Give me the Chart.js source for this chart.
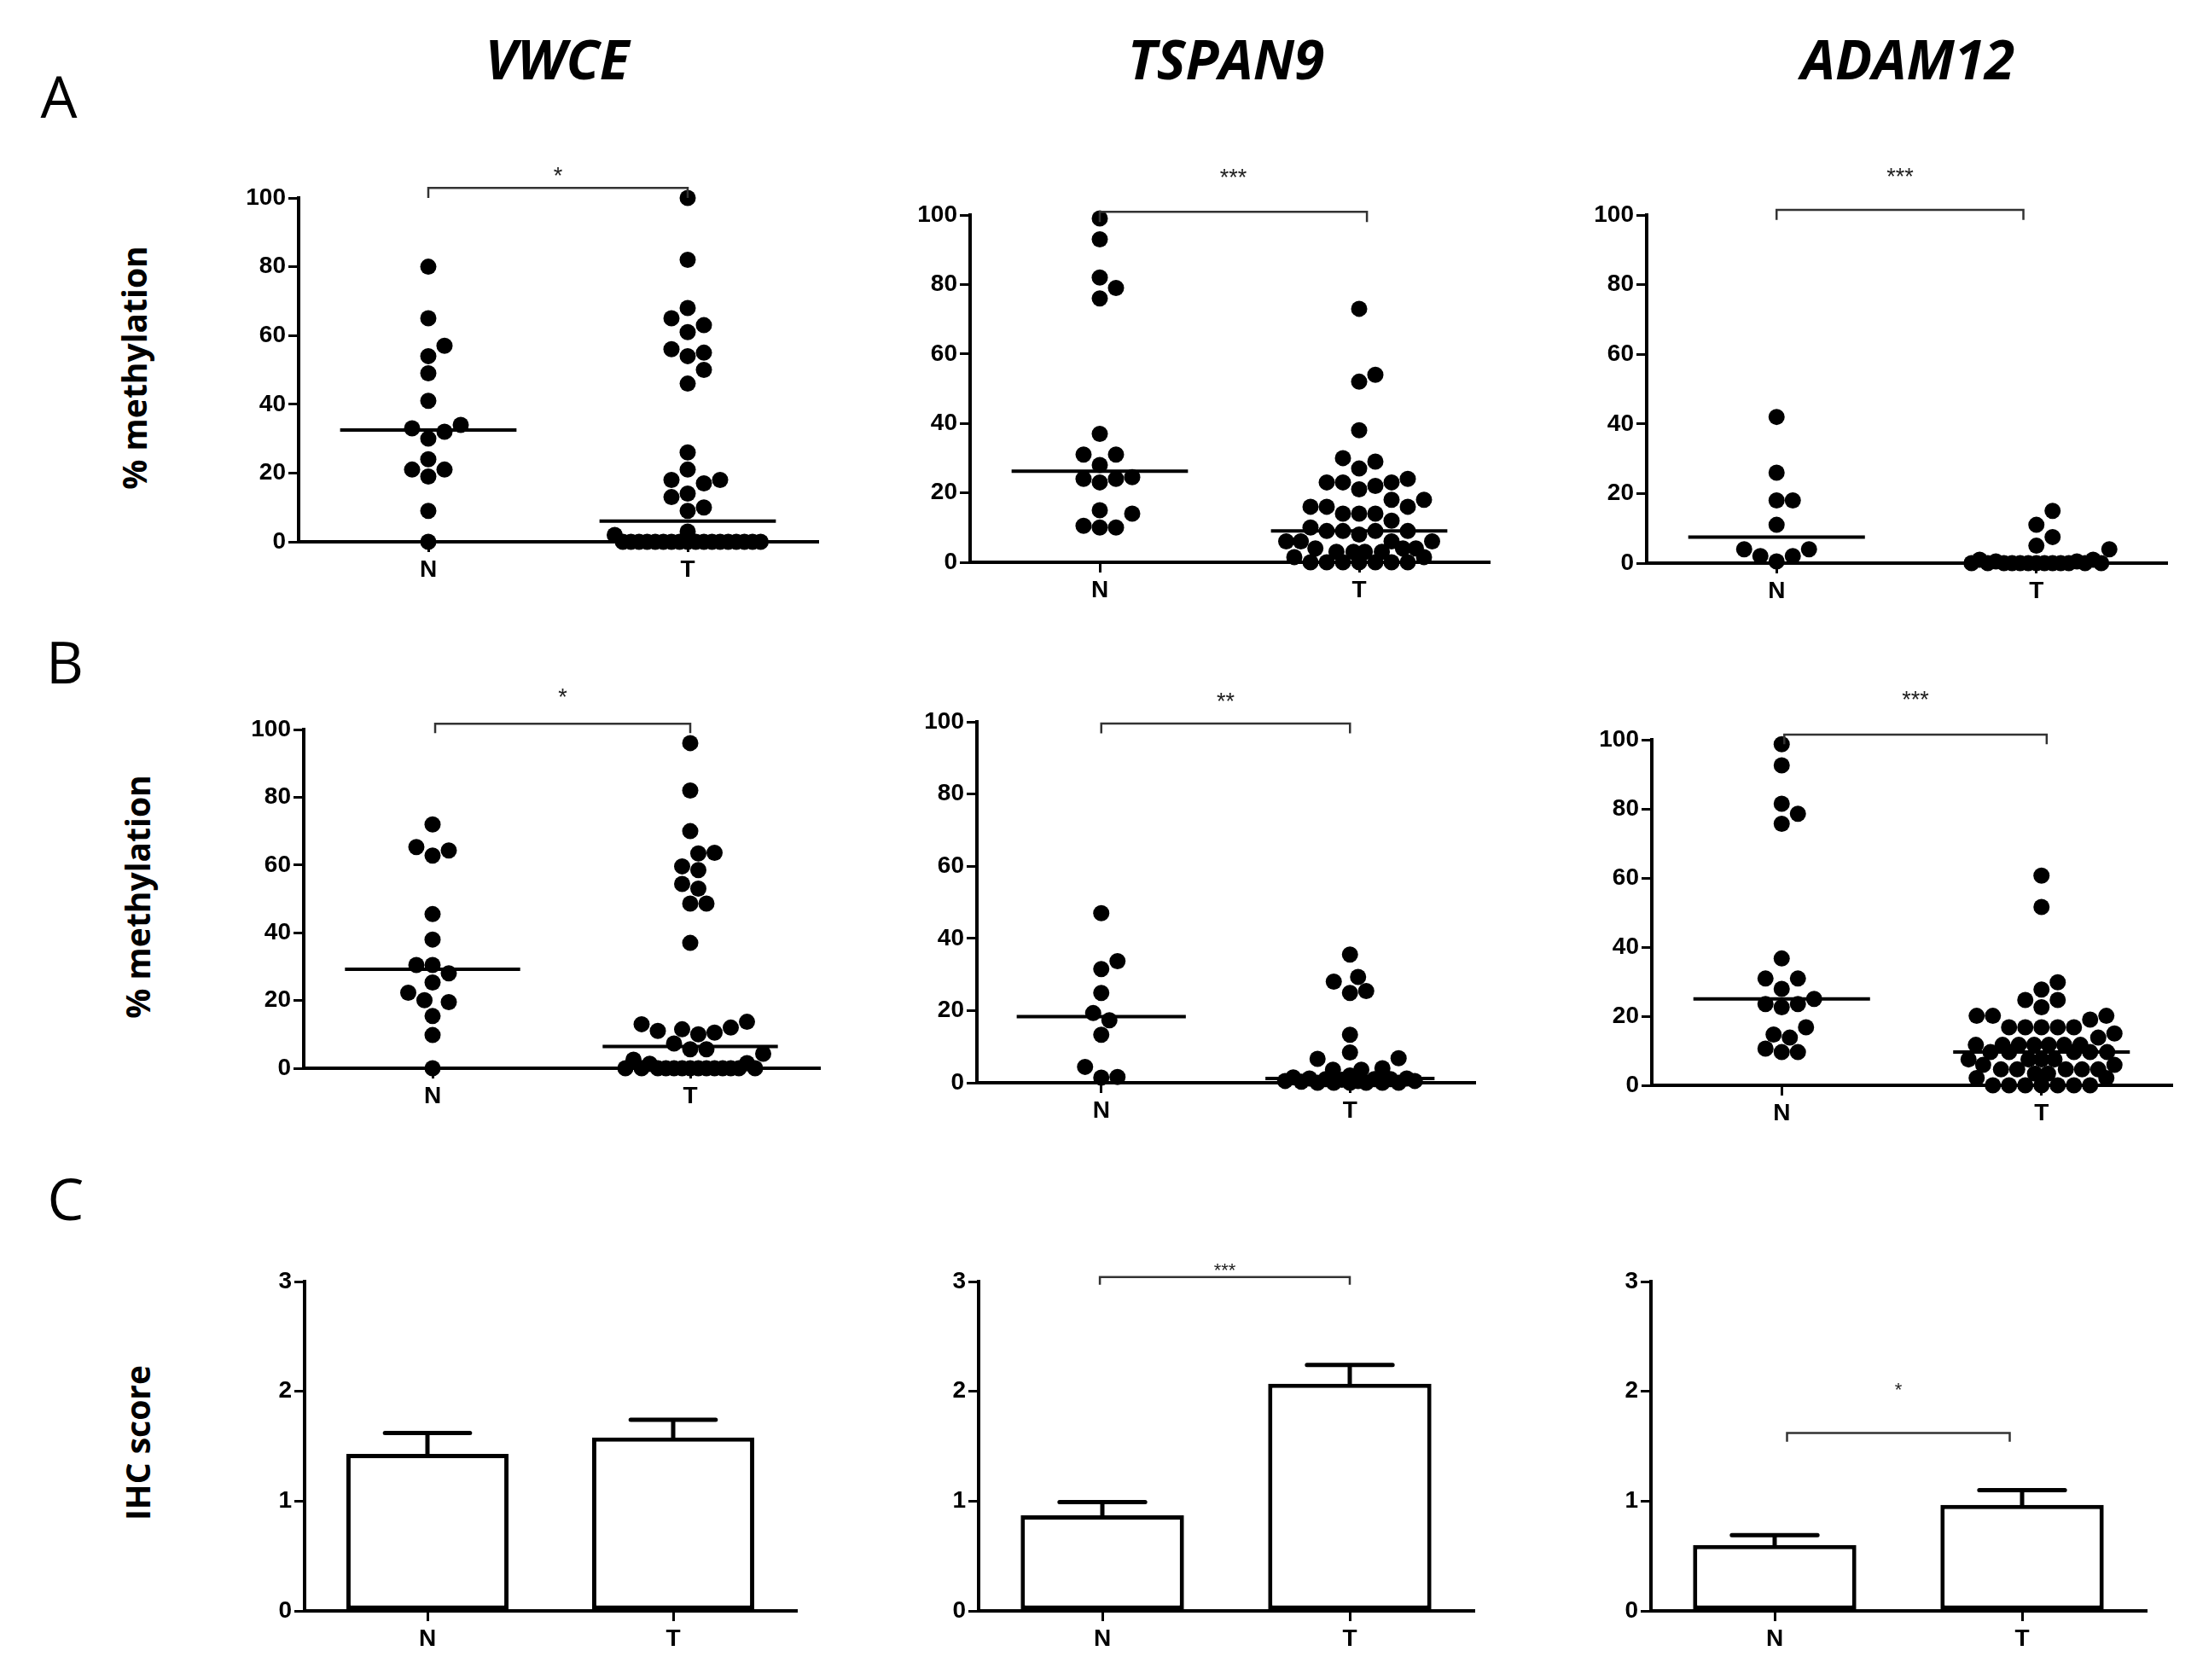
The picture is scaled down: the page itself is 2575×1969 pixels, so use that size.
<!DOCTYPE html>
<html>
<head>
<meta charset="utf-8">
<script src="https://cdn.jsdelivr.net/npm/chart.js@4.4.1/dist/chart.umd.min.js"></script>
<style>
  body { margin: 0; background: #fff; }
  #page { position: relative; width: 2575px; height: 1969px; background: #fff; overflow: hidden; }
  #page canvas { position: absolute; }
  .lbl { position: absolute; transform: translate(-50%, -50%); white-space: nowrap; color: #000; line-height: 1; }
  .gene { font-family: 'Open Sans', sans-serif; font-weight: 700; font-style: italic; font-size: 64px; }
  .letter { font-family: 'Open Sans', sans-serif; font-weight: 400; font-size: 68px; }
  .ytitle { font-family: 'Open Sans', sans-serif; font-weight: 700; font-size: 39px; transform: translate(-50%, -50%) rotate(-90deg); }
</style>
</head>
<body>
<div id="page">
  <div class="lbl gene" style="left:653px; top:69px;">VWCE</div>
  <div class="lbl gene" style="left:1437px; top:69px;">TSPAN9</div>
  <div class="lbl gene" style="left:2236px; top:69px;">ADAM12</div>
  <div class="lbl letter" style="left:69px; top:112px;">A</div>
  <div class="lbl letter" style="left:76px; top:775px;">B</div>
  <div class="lbl letter" style="left:77px; top:1404px;">C</div>
  <div class="lbl ytitle" style="left:156px; top:431px;">% methylation</div>
  <div class="lbl ytitle" style="left:160px; top:1051px;">% methylation</div>
  <div class="lbl ytitle" style="left:160px; top:1691px;">IHC score</div>
</div>
<script>
const groups = ['N', 'T'];

// row A, % methylation
const vwceA_N = [80, 65, 57, 54, 49, 41, 34, 33, 32, 30, 24, 21, 21, 19, 9, 0];
const vwceA_T = [100, 82, 68, 65, 63, 61, 56, 55, 54, 50, 46, 26, 21, 18, 18, 17, 14, 13, 10, 9, 3, 2,
    0, 0, 0, 0, 0, 0, 0, 0, 0, 0, 0, 0, 0, 0, 0, 0, 0, 0];
const tspanA_N = [99, 93, 82, 79, 76, 37, 31, 31, 28, 24.5, 24, 24, 23, 15, 14, 10.5, 10, 10];
const tspanA_T = [73, 54, 52, 38, 30, 29, 27, 24, 23, 23, 23, 22, 21, 18, 18, 16, 16, 16, 14, 14, 14, 12, 10,
    9, 9, 9, 9, 8, 6, 6, 6, 6, 4, 4, 4, 3, 3, 3, 3, 1.5, 1.5, 0, 0, 0, 0, 0, 0, 0];
const adamA_N = [42, 26, 18, 18, 11, 4, 4, 2, 2, 0.5];
const adamA_T = [15, 11, 7.5, 5, 4, 1, 1, 0.5, 0.5, 0, 0, 0, 0, 0, 0, 0, 0, 0, 0, 0, 0, 0];

// row B, % methylation
const vwceB_N = [72, 65.3, 64.3, 62.8, 45.5, 38, 30.5, 30.5, 28, 25.3, 22.3, 20.1, 19.5, 15.4, 9.8, 0];
const vwceB_T = [96, 82, 70, 63.6, 63.4, 59.6, 58.5, 54.4, 53, 48.6, 48.6, 37, 13.7, 13, 12, 11.5, 11, 10.5, 10,
    7.3, 5.6, 5.6, 4.3, 2.5, 1.5, 1.3, 0, 0, 0, 0, 0, 0, 0, 0, 0, 0, 0, 0, 0, 0];
const tspanB_N = [47, 33.7, 31.5, 24.9, 19.3, 17.3, 13.3, 4.4, 1.6, 1.4];
const tspanB_T = [35.5, 29.3, 28, 25.4, 24.9, 13.3, 8.4, 6.8, 6.6, 4, 3.6, 3.6, 2, 1.5, 1.2, 1.2, 1, 1, 1, 0.8,
    0.5, 0.5, 0.5, 0.3, 0, 0, 0, 0, 0, 0];
const adamB_N = [98.7, 92.6, 81.5, 78.6, 75.7, 36.7, 30.9, 30.9, 27.9, 25, 23.5, 23.5, 22.6, 16.8, 14.7, 13.8,
    10.6, 9.6, 9.6];
const adamB_T = [60.7, 51.6, 29.8, 27.7, 24.7, 24.7, 22.6, 20.1, 20.1, 20.1, 19, 16.8, 16.8, 16.8, 16.8, 16.8,
    15, 13.8, 11.7, 11.7, 11.7, 11.7, 11.7, 11.7, 11.7, 9.6, 9.6, 9.6, 9.6, 9.6, 7.5, 7.5, 7.5, 7.5,
    5.9, 5.9, 4.6, 4.6, 4.6, 4.6, 4.6, 3.4, 3.4, 2.1, 2.1, 0, 0, 0, 0, 0, 0, 0];

// row C, IHC score (mean and SEM per gene: VWCE, TSPAN9, ADAM12)
const ihcMeanN = [1.43, 0.87, 0.60];
const ihcMeanT = [1.58, 2.07, 0.965];
const ihcSemN = [0.19, 0.12, 0.09];
const ihcSemT = [0.16, 0.17, 0.135];

const DOT_R = 9.5;
const Y_AXIS_W = 110;
const X_AXIS_H = 70;
const PAD_TOP = 130;
const PAD_RIGHT = 20;
const TICK_FONT = { family: "'Liberation Sans', Arial, sans-serif", size: 28, weight: 'bold' };

const dotPanels = [
    { n: vwceA_N, t: vwceA_T, area: [350, 232, 958, 635], sig: { y: 102.9, drop: 2.9, x0: 1, x1: 2, text: '*', ty: 107.5 } },
    { n: tspanA_N, t: tspanA_T, area: [1137, 252, 1745, 659], sig: { y: 100.9, drop: 2.9, x0: 1, x1: 2.03, text: '***', ty: 112 } },
    { n: adamA_N, t: adamA_T, area: [1930, 252, 2539, 660], sig: { y: 101.5, drop: 2.9, x0: 1, x1: 1.95, text: '***', ty: 112 } },
    { n: vwceB_N, t: vwceB_T, area: [356, 855, 960, 1252], sig: { y: 101.7, drop: 2.8, x0: 1.01, x1: 2, text: '*', ty: 110.8 } },
    { n: tspanB_N, t: tspanB_T, area: [1145, 846, 1728, 1269], sig: { y: 99.5, drop: 2.7, x0: 1, x1: 2, text: '**', ty: 106.7 } },
    { n: adamB_N, t: adamB_T, area: [1936, 867, 2545, 1272], sig: { y: 101.5, drop: 2.8, x0: 1.01, x1: 2.02, text: '***', ty: 112.8 } },
];

const barPanels = [
    { gene: 0, area: [357, 1502, 933, 1888], sig: null },
    { gene: 1, area: [1147, 1502, 1727, 1888], sig: { y: 3.04, drop: 0.07, x0: 0.99, x1: 2, text: '***', ty: 3.14, size: 22 } },
    { gene: 2, area: [1935, 1502, 2515, 1888], sig: { y: 1.62, drop: 0.08, x0: 1.05, x1: 1.95, text: '*', ty: 2.05, size: 22 } },
];

function median(values) {
    const s = values.slice().sort((a, b) => a - b);
    const m = Math.floor(s.length / 2);
    return s.length % 2 ? s[m] : (s[m - 1] + s[m]) / 2;
}

// spread dots sideways so they do not overlap (scatter dot plot layout)
function swarm(values, pxX, pxY, maxHalf) {
    const placed = [];
    const out = new Array(values.length);
    const order = values.map((v, i) => i).sort((a, b) => values[a] - values[b]);
    for (const i of order) {
        const v = values[i];
        let x = null;
        for (let f = 1; f > 0.2 && x === null; f -= 0.1) {
            const sep = DOT_R * 2 * f;
            for (let k = 0; k <= 80 && x === null; k++) {
                for (const sgn of (k === 0 ? [1] : [1, -1])) {
                    const cx = sgn * k * sep * 0.5 / pxX;
                    if (Math.abs(cx) > maxHalf) continue;
                    const ok = placed.every(p => {
                        const dx = (p.x - cx) * pxX, dy = (p.v - v) * pxY;
                        return dx * dx + dy * dy >= sep * sep - 0.01;
                    });
                    if (ok) { x = cx; break; }
                }
            }
        }
        if (x === null) x = 0;
        placed.push({ v: v, x: x });
        out[i] = x;
    }
    return out;
}

function makeCanvas(area) {
    const c = document.createElement('canvas');
    const w = area[2] - area[0] + Y_AXIS_W + PAD_RIGHT;
    const h = area[3] - area[1] + PAD_TOP + X_AXIS_H;
    c.width = w;
    c.height = h;
    c.style.left = (area[0] - Y_AXIS_W) + 'px';
    c.style.top = (area[1] - PAD_TOP) + 'px';
    c.style.width = w + 'px';
    c.style.height = h + 'px';
    document.getElementById('page').appendChild(c);
    return c;
}

function sigPlugin(spec) {
    return {
        id: 'sig',
        afterDraw(chart) {
            if (!spec) return;
            const ctx = chart.ctx, a = chart.chartArea, y = chart.scales.y;
            const xp = u => a.left + (u - 0.5) / 2 * (a.right - a.left);
            const yl = y.getPixelForValue(spec.y), yd = y.getPixelForValue(spec.y - spec.drop);
            ctx.save();
            ctx.strokeStyle = '#333';
            ctx.lineWidth = 2.5;
            ctx.beginPath();
            ctx.moveTo(xp(spec.x0), yd);
            ctx.lineTo(xp(spec.x0), yl);
            ctx.lineTo(xp(spec.x1), yl);
            ctx.lineTo(xp(spec.x1), yd);
            ctx.stroke();
            ctx.fillStyle = '#222';
            ctx.font = (spec.size || 27) + "px 'Liberation Sans', Arial, sans-serif";
            ctx.textAlign = 'center';
            ctx.textBaseline = 'middle';
            ctx.fillText(spec.text, (xp(spec.x0) + xp(spec.x1)) / 2, y.getPixelForValue(spec.ty) + 6);
            ctx.restore();
        }
    };
}

function errPlugin(means, sems) {
    return {
        id: 'errbars',
        afterDatasetsDraw(chart) {
            const ctx = chart.ctx, a = chart.chartArea, y = chart.scales.y;
            const xp = u => a.left + (u - 0.5) / 2 * (a.right - a.left);
            const half = 0.173 / 2 * (a.right - a.left);
            ctx.save();
            ctx.strokeStyle = '#000';
            ctx.lineWidth = 5;
            ctx.lineCap = 'round';
            for (let i = 0; i < means.length; i++) {
                const cx = xp(i + 1);
                const top = y.getPixelForValue(means[i]);
                const cap = y.getPixelForValue(means[i] + sems[i]);
                ctx.beginPath();
                ctx.moveTo(cx, top);
                ctx.lineTo(cx, cap);
                ctx.moveTo(cx - half, cap);
                ctx.lineTo(cx + half, cap);
                ctx.stroke();
            }
            ctx.restore();
        }
    };
}

function axisOptions(extra) {
    return Object.assign({
        grid: { drawOnChartArea: false, drawTicks: true, tickLength: 12, color: '#000', lineWidth: 3 },
        border: { display: true, color: '#000', width: 4 },
        ticks: { color: '#000', font: TICK_FONT, padding: 3 },
    }, extra);
}

function createDotPlot(p) {
    const canvas = makeCanvas(p.area);
    const pxX = (p.area[2] - p.area[0]) / 2;
    const pxY = (p.area[3] - p.area[1]) / 100;
    const offN = swarm(p.n, pxX, pxY, 0.29);
    const offT = swarm(p.t, pxX, pxY, 0.29);
    const medN = median(p.n), medT = median(p.t);
    const dotStyle = { pointRadius: DOT_R, pointBackgroundColor: '#000', pointBorderWidth: 0, showLine: false, clip: false };

    const config = {
        type: 'scatter',
        data: {
            datasets: [
                Object.assign({ label: 'N', data: p.n.map((v, i) => ({ x: 1 + offN[i], y: v })) }, dotStyle),
                Object.assign({ label: 'T', data: p.t.map((v, i) => ({ x: 2 + offT[i], y: v })) }, dotStyle),
                { label: 'median N', data: [{ x: 0.66, y: medN }, { x: 1.34, y: medN }], showLine: true,
                  borderColor: '#000', borderWidth: 4, pointRadius: 0, clip: false },
                { label: 'median T', data: [{ x: 1.66, y: medT }, { x: 2.34, y: medT }], showLine: true,
                  borderColor: '#000', borderWidth: 4, pointRadius: 0, clip: false },
            ]
        },
        options: {
            responsive: false,
            animation: false,
            devicePixelRatio: 1,
            layout: { padding: { top: PAD_TOP, right: PAD_RIGHT, left: 0, bottom: 0 } },
            plugins: { legend: { display: false }, tooltip: { enabled: false } },
            scales: {
                x: axisOptions({
                    type: 'linear', min: 0.5, max: 2.5,
                    afterBuildTicks: s => { s.ticks = [{ value: 1 }, { value: 2 }]; },
                    afterFit: s => { s.height = X_AXIS_H; },
                    ticks: { color: '#000', font: TICK_FONT, padding: 4, callback: v => groups[v - 1] },
                }),
                y: axisOptions({
                    type: 'linear', min: 0, max: 100,
                    afterFit: s => { s.width = Y_AXIS_W; },
                    ticks: { color: '#000', font: TICK_FONT, padding: 3, stepSize: 20 },
                }),
            }
        },
        plugins: [sigPlugin(p.sig)]
    };
    return new Chart(canvas, config);
}

function createBarPlot(p) {
    const canvas = makeCanvas(p.area);
    const means = [ihcMeanN[p.gene], ihcMeanT[p.gene]];
    const sems = [ihcSemN[p.gene], ihcSemT[p.gene]];
    const config = {
        type: 'bar',
        data: {
            labels: groups,
            datasets: [{
                data: means,
                backgroundColor: '#fff',
                borderColor: '#000',
                borderWidth: 5,
                borderSkipped: false,
                barPercentage: 0.66,
                categoryPercentage: 1,
            }]
        },
        options: {
            responsive: false,
            animation: false,
            devicePixelRatio: 1,
            layout: { padding: { top: PAD_TOP, right: PAD_RIGHT, left: 0, bottom: 0 } },
            plugins: { legend: { display: false }, tooltip: { enabled: false } },
            scales: {
                x: axisOptions({
                    grid: { drawOnChartArea: false, drawTicks: true, tickLength: 12, color: '#000', lineWidth: 3, offset: false },
                    afterFit: s => { s.height = X_AXIS_H; },
                    ticks: { color: '#000', font: TICK_FONT, padding: 4 },
                }),
                y: axisOptions({
                    min: 0, max: 3,
                    afterFit: s => { s.width = Y_AXIS_W; },
                    ticks: { color: '#000', font: TICK_FONT, padding: 3, stepSize: 1 },
                }),
            }
        },
        plugins: [errPlugin(means, sems), sigPlugin(p.sig)]
    };
    return new Chart(canvas, config);
}

dotPanels.forEach(createDotPlot);
barPanels.forEach(createBarPlot);
</script>
</body>
</html>
